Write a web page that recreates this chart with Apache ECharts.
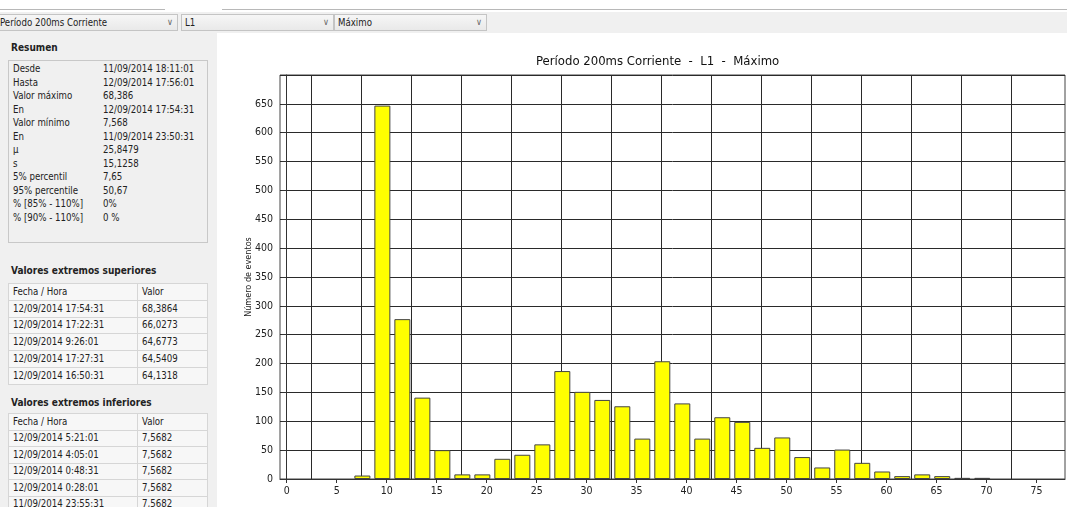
<!DOCTYPE html>
<html>
<head>
    <meta charset="utf-8">
    <title>Período 200ms Corriente - L1 - Máximo</title>
    <script src="https://cdn.jsdelivr.net/npm/echarts@6.0.0/dist/echarts.min.js"></script>
    <style>
        body {
            margin: 0;
            width: 1067px;
            height: 507px;
            overflow: hidden;
            background: #fff;
            font-family: 'DejaVu Sans Condensed', 'DejaVu Sans', sans-serif;
            font-size: 9.6px;
            color: #222;
            position: relative;
        }
        .tabline { position: absolute; top: 9px; height: 1px; background: #b8b8b8; }
        .strip { position: absolute; left: 0; top: 12px; width: 1067px; height: 21px; background: #f0f0f0; }
        .combo {
            position: absolute;
            top: 14px;
            height: 17px;
            box-sizing: border-box;
            border: 1px solid #c4c4c4;
            background: linear-gradient(#f6f6f6, #e9e9e9);
            line-height: 15px;
            padding-left: 3px;
            white-space: nowrap;
            overflow: hidden;
        }
        .combo .arrow { position: absolute; right: 4px; top: 0; color: #666; font-size: 9px; }
        .panel { position: absolute; left: 0; top: 33px; width: 217px; height: 474px; background: #f0f0f0; }
        .heading { position: absolute; left: 11px; font-weight: bold; font-size: 10px; }
        .box { position: absolute; left: 8px; width: 200px; box-sizing: border-box; border: 1px solid #c8c8c8; }
        .row { height: 13.5px; line-height: 13.5px; position: relative; }
        .row span { position: absolute; }
        table { position: absolute; left: 8px; width: 200px; border-collapse: collapse; font-size: 9.6px; }
        td { border: 1px solid #d6d6d6; height: 15.4px; padding: 0 0 0 4px; line-height: 14px; white-space: nowrap; background: #f7f7f7; }
        td:first-child { width: 124px; }
        #chart { position: absolute; left: 217px; top: 33px; width: 850px; height: 474px; }
    </style>
</head>
<body>
<div class="tabline" style="left:0;width:165px"></div>
<div class="tabline" style="left:222px;width:845px"></div>
<div class="strip"></div>
<div class="combo" style="left:-4px;width:182px">Período 200ms Corriente<span class="arrow">&#8744;</span></div>
<div class="combo" style="left:181px;width:153px">L1<span class="arrow">&#8744;</span></div>
<div class="combo" style="left:334px;width:153px">Máximo<span class="arrow">&#8744;</span></div>

<div class="panel" id="panel"></div>
<div id="chart"></div>

<script>
    // summary panel texts
    const summaryLabels = ['Desde', 'Hasta', 'Valor máximo', 'En', 'Valor mínimo', 'En', 'μ', 's',
        '5% percentil', '95% percentile', '% [85% - 110%]', '% [90% - 110%]'];
    const summaryValues = ['11/09/2014 18:11:01', '12/09/2014 17:56:01', '68,386', '12/09/2014 17:54:31',
        '7,568', '11/09/2014 23:50:31', '25,8479', '15,1258', '7,65', '50,67', '0%', '0 %'];
    const upperDates = ['12/09/2014 17:54:31', '12/09/2014 17:22:31', '12/09/2014 9:26:01',
        '12/09/2014 17:27:31', '12/09/2014 16:50:31'];
    const upperValues = ['68,3864', '66,0273', '64,6773', '64,5409', '64,1318'];
    const lowerDates = ['12/09/2014 5:21:01', '12/09/2014 4:05:01', '12/09/2014 0:48:31',
        '12/09/2014 0:28:01', '11/09/2014 23:55:31'];
    const lowerValues = ['7,5682', '7,5682', '7,5682', '7,5682', '7,5682'];

    // histogram data
    const binCenters = [7.57, 9.57, 11.57, 13.57, 15.57, 17.57, 19.57, 21.57, 23.57, 25.57,
        27.57, 29.57, 31.57, 33.57, 35.57, 37.57, 39.57, 41.57, 43.57, 45.57,
        47.57, 49.57, 51.57, 53.57, 55.57, 57.57, 59.57, 61.57, 63.57, 65.57, 67.57, 69.57];
    const eventCounts = [6, 647, 277, 141, 50, 8, 8, 35, 42, 60,
        187, 151, 137, 126, 70, 204, 131, 70, 107, 99,
        54, 72, 38, 20, 51, 28, 13, 5, 8, 5, 2, 2];
    const xLabels = [0, 5, 10, 15, 20, 25, 30, 35, 40, 45, 50, 55, 60, 65, 70, 75];
    const xGridLines = [2.5, 7.5, 12.5, 17.5, 22.5, 27.5, 32.5, 37.5, 42.5, 47.5, 52.5, 57.5, 62.5, 67.5, 72.5];

    // build left panel (coordinates relative to panel at top 33)
    const panel = document.getElementById('panel');
    let html = '<div class="heading" style="top:9px">Resumen</div>';
    html += '<div class="box" style="top:27px;height:183px;padding-top:1px">';
    summaryLabels.forEach((l, i) => {
        html += `<div class="row"><span style="left:4px">${l}</span><span style="left:94px">${summaryValues[i]}</span></div>`;
    });
    html += '</div>';
    const tableHtml = (dates, vals, top, h) => {
        let t = `<table style="top:${top}px"><tr><td style="height:${h}px">Fecha / Hora</td><td>Valor</td></tr>`;
        dates.forEach((d, i) => { t += `<tr><td style="height:${h}px">${d}</td><td>${vals[i]}</td></tr>`; });
        return t + '</table>';
    };
    html += '<div class="heading" style="top:232px">Valores extremos superiores</div>';
    html += tableHtml(upperDates, upperValues, 250, 15.8);
    html += '<div class="heading" style="top:364px">Valores extremos inferiores</div>';
    html += tableHtml(lowerDates, lowerValues, 380, 15.5);
    panel.innerHTML = html;

    const chart = echarts.init(document.getElementById('chart'));
    const font = "'DejaVu Sans Condensed', 'DejaVu Sans', sans-serif";

    chart.setOption({
        animation: false,
        textStyle: { fontFamily: font },
        graphic: [{
            type: 'text',
            left: 319,
            top: 22,
            style: {
                text: 'Período 200ms Corriente  -  L1  -  Máximo',
                font: '13px ' + font,
                fill: '#111'
            }
        }],
        grid: {
            left: 63, right: 2, top: 42, bottom: 28,
            show: true, borderColor: '#444', borderWidth: 1
        },
        xAxis: [{
            type: 'value',
            min: -0.67,
            max: 77.85,
            axisLine: { lineStyle: { color: '#333' } },
            axisTick: { show: true, length: 4, customValues: xLabels, lineStyle: { color: '#333' } },
            axisLabel: { customValues: xLabels, color: '#222', fontSize: 10.5, margin: 7 },
            splitLine: { show: false }
        }, {
            type: 'value',
            position: 'bottom',
            min: -0.67,
            max: 77.85,
            axisLine: { show: false },
            axisTick: { show: false, customValues: xGridLines },
            axisLabel: { show: false, customValues: xGridLines },
            splitLine: { show: true, lineStyle: { color: '#2a2a2a', width: 1 } }
        }],
        yAxis: {
            type: 'value',
            min: 0,
            max: 700,
            interval: 50,
            name: 'Número de eventos',
            nameLocation: 'middle',
            nameGap: 27,
            nameMoveOverlap: false,
            nameTextStyle: { fontSize: 9, color: '#222' },
            axisLine: { show: true, lineStyle: { color: '#333' } },
            axisTick: { show: true, length: 5, lineStyle: { color: '#333' } },
            axisLabel: { showMaxLabel: false, color: '#222', fontSize: 10.5, margin: 7 },
            splitLine: { show: true, lineStyle: { color: '#2a2a2a', width: 1 } }
        },
        series: [{
            type: 'bar',
            xAxisIndex: 0,
            barWidth: 16,
            data: binCenters.map((x, i) => [x, eventCounts[i]]),
            itemStyle: { color: '#ffff00', borderColor: '#444', borderWidth: 1 }
        }]
    });
</script>
</body>
</html>
